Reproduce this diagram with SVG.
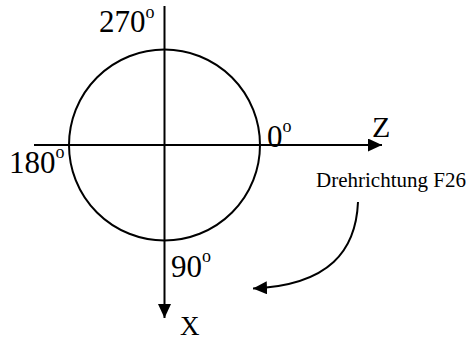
<svg xmlns="http://www.w3.org/2000/svg" width="469" height="340" viewBox="0 0 469 340">
<style>
.ln{fill:none;stroke:#000;stroke-width:2}
.t{fill:#000}
.big{font-size:31px}
.sup{font-size:18px}
</style>
<defs>
<marker id="ah" markerUnits="userSpaceOnUse" markerWidth="16" markerHeight="14" refX="14" refY="6.5" orient="auto" viewBox="0 0 16 14">
<path d="M0,0 L14,6.5 L0,13 Z" fill="#000"/>
</marker>
</defs>
<g id="circle"><circle class="ln" cx="164.5" cy="145" r="95.5" stroke-width="1.8"/></g>
<g id="connectors">
<line id="axis-x" class="ln" x1="164.5" y1="6" x2="164.5" y2="318" marker-end="url(#ah)"/>
<line id="axis-z" class="ln" x1="34" y1="145" x2="382" y2="145" marker-end="url(#ah)"/>
<path id="rotation" class="ln" stroke-width="2.4" d="M358,202 C356,250 330,285 253,288.5" marker-end="url(#ah)"/>
</g>
<g id="labels" font-family="Liberation Serif, Times New Roman, serif">
<text class="t big" x="99" y="32">270<tspan class="sup" dy="-14">o</tspan></text>
<text class="t big" x="9" y="173">180<tspan class="sup" dy="-15">o</tspan></text>
<text class="t big" x="267" y="147">0<tspan class="sup" dy="-15">o</tspan></text>
<text class="t big" x="171" y="277">90<tspan class="sup" dy="-15">o</tspan></text>
<text class="t" x="180" y="335" font-size="27">X</text>
<text class="t" x="372" y="137" font-size="30">Z</text>
<text class="t" x="316" y="187" font-size="21">Drehrichtung F26</text>
</g>
</svg>
